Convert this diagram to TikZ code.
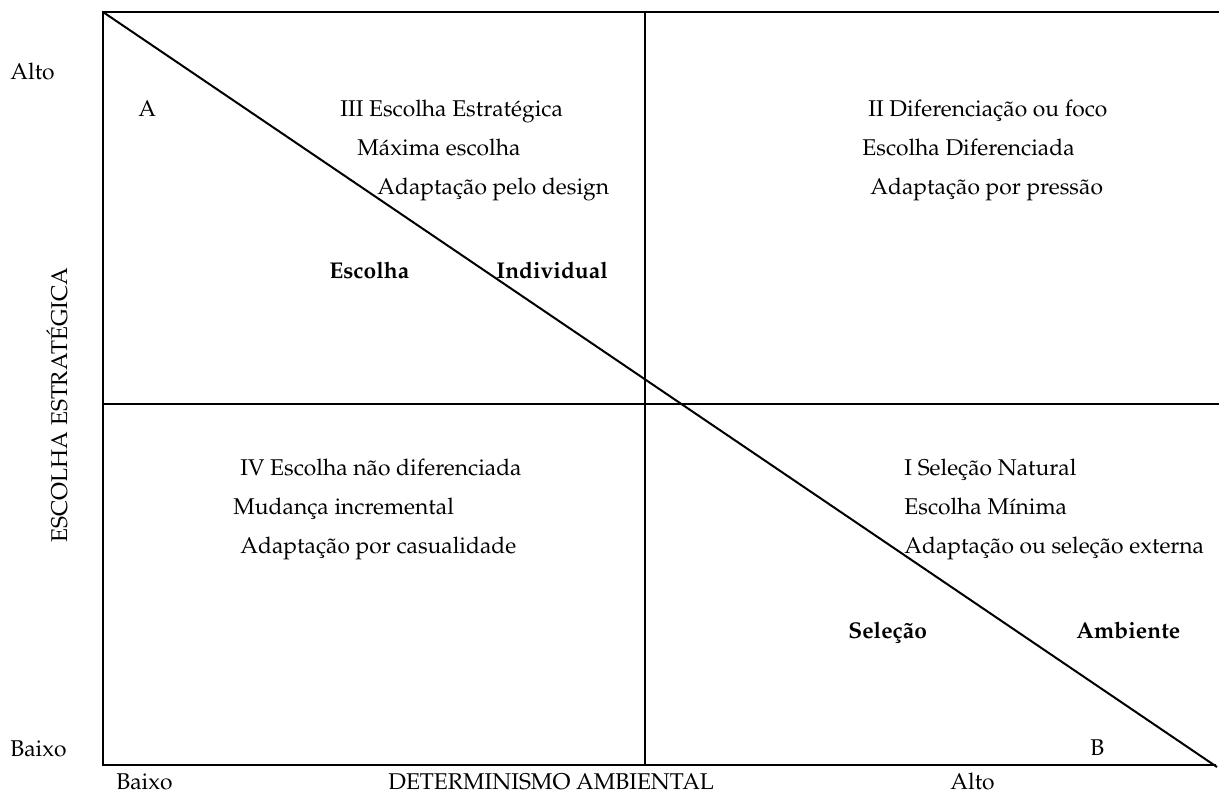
\documentclass[tikz,border=0pt]{standalone}
\usepackage[T1]{fontenc}
\usepackage{mathpazo}
\begin{document}
\begin{tikzpicture}[x={(0.5pt,0)},y={(0,-0.5pt)},
  lbl/.style={anchor=mid west,inner sep=0pt,font=\fontsize{11.4}{13.5}\selectfont},
  blbl/.style={lbl,font=\fontsize{11.4}{13.5}\selectfont\bfseries},
  frame/.style={line width=1.4pt},
  diag/.style={line width=1pt}]
\useasboundingbox (0,0) rectangle (1219,799);
% frame coordinates
\coordinate (tl) at (103,12);
\coordinate (tr) at (1219,12);
\coordinate (bl) at (103,765);
\coordinate (br) at (1216,765);
\coordinate (mt) at (645,12);
\coordinate (mb) at (645,765);
\coordinate (ml) at (103,404);
\coordinate (mr) at (1219,404);
\coordinate (de) at (1217,767);
\draw[frame] (tr) -- (tl) -- (bl) -- (br);
\draw[frame] (mt) -- (mb);
\draw[frame] (ml) -- (mr);
\draw[diag] (tl) -- (de);
% axis labels
\node[lbl] (altoL) at (10,75) {Alto};
\node[lbl] (baixoL) at (10,752) {Baixo};
\node[anchor=center,inner sep=0pt,rotate=90,font=\fontsize{11.4}{13.5}\selectfont] (yax) at (57,405) {ESCOLHA ESTRATÉGICA};
\node[lbl] (baixoB) at (116,785) {Baixo};
\node[lbl] (xax) at (388,785) {DETERMINISMO AMBIENTAL};
\node[lbl] (altoB) at (950,785) {Alto};
% corner letters
\node[lbl] (A) at (138,112) {A};
\node[lbl] (B) at (1090,751) {B};
% quadrant III
\node[lbl] (q3a) at (340,112) {III Escolha Estratégica};
\node[lbl] (q3b) at (357,151) {Máxima escolha};
\node[lbl] (q3c) at (377,190) {Adaptação pelo design};
\node[blbl] (esc) at (329,274) {Escolha};
\node[blbl] (ind) at (496,274) {Individual};
% quadrant II
\node[lbl] (q2a) at (868,112) {II Diferenciação ou foco};
\node[lbl] (q2b) at (862,151) {Escolha Diferenciada};
\node[lbl] (q2c) at (870,190) {Adaptação por pressão};
% quadrant IV
\node[lbl] (q4a) at (240,471) {IV Escolha não diferenciada};
\node[lbl] (q4b) at (233,510) {Mudança incremental};
\node[lbl] (q4c) at (240,549) {Adaptação por casualidade};
% quadrant I
\node[lbl] (q1a) at (904,471) {I Seleção Natural};
\node[lbl] (q1b) at (904,510) {Escolha Mínima};
\node[lbl] (q1c) at (904,549) {Adaptação ou seleção externa};
\node[blbl] (sel) at (848,634) {Seleção};
\node[blbl] (amb) at (1076,634) {Ambiente};
\end{tikzpicture}
\end{document}
